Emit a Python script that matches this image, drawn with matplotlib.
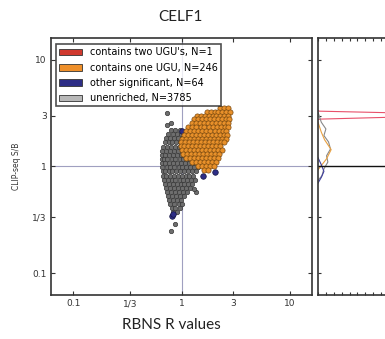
import numpy as np
import matplotlib
matplotlib.use('Agg')
import matplotlib.pyplot as plt
from matplotlib.patches import Patch
from matplotlib.ticker import FixedLocator, NullFormatter, NullLocator, MultipleLocator

plt.rc('font', family='DejaVu Sans', size=7)

# ---- data ----
# gray (unenriched) cloud, stored row by row: (CLIP-seq S/B, [RBNS R values])
gray_rows = [
    (2.22, [0.80, 0.87, 0.97]),
    (2.02, [0.75, 0.84, 0.91, 0.99, 1.07]),
    (1.84, [0.72, 0.79, 0.86, 0.93, 1.02, 1.10]),
    (1.68, [0.70, 0.76, 0.82, 0.89, 0.97, 1.05, 1.14]),
    (1.53, [0.68, 0.74, 0.80, 0.87, 0.95, 1.03, 1.12, 1.22]),
    (1.40, [0.665, 0.72, 0.78, 0.85, 0.92, 1.0, 1.09, 1.19, 1.29]),
    (1.28, [0.66, 0.70, 0.76, 0.83, 0.90, 0.98, 1.06, 1.15, 1.25]),
    (1.17, [0.655, 0.69, 0.74, 0.81, 0.88, 0.96, 1.04, 1.13, 1.23, 1.33]),
    (1.07, [0.66, 0.71, 0.77, 0.84, 0.91, 0.99, 1.08, 1.17, 1.27, 1.38]),
    (0.98, [0.665, 0.73, 0.79, 0.86, 0.94, 1.02, 1.11, 1.21, 1.31, 1.42]),
    (0.90, [0.67, 0.70, 0.76, 0.82, 0.89, 0.97, 1.05, 1.14, 1.24, 1.35]),
    (0.82, [0.675, 0.72, 0.78, 0.85, 0.92, 1.0, 1.09, 1.18, 1.28]),
    (0.75, [0.69, 0.75, 0.81, 0.88, 0.96, 1.04, 1.13, 1.23, 1.33]),
    (0.69, [0.70, 0.77, 0.83, 0.90, 0.98, 1.06, 1.16, 1.25]),
    (0.63, [0.72, 0.79, 0.86, 0.93, 1.01, 1.10, 1.19]),
    (0.58, [0.73, 0.80, 0.87, 0.95, 1.03, 1.12]),
    (0.53, [0.75, 0.82, 0.89, 0.97, 1.05]),
    (0.485, [0.77, 0.84, 0.91, 0.99]),
    (0.445, [0.79, 0.86, 0.94, 1.01]),
    (0.41, [0.81, 0.88, 0.96]),
    (0.375, [0.84, 0.91]),
]
gray_extra_x = [0.729, 0.793, 0.793, 0.863, 1.373, 0.74, 1.30]
gray_extra_y = [3.16, 2.56, 0.25, 0.29, 0.575, 2.45, 0.62]

# orange (one UGU) cloud, row by row
orange_rows = [
    (3.52, [2.25, 2.45, 2.66]),
    (3.25, [1.72, 1.86, 2.03, 2.19, 2.38, 2.58, 2.80]),
    (3.00, [1.38, 1.50, 1.64, 1.78, 1.94, 2.10, 2.28, 2.48, 2.70]),
    (2.76, [1.30, 1.42, 1.55, 1.69, 1.84, 2.00, 2.18, 2.37, 2.58, 2.76]),
    (2.54, [1.24, 1.35, 1.48, 1.61, 1.75, 1.91, 2.08, 2.26, 2.46, 2.66]),
    (2.34, [1.15, 1.26, 1.37, 1.50, 1.63, 1.78, 1.94, 2.11, 2.30, 2.50, 2.68]),
    (2.15, [1.10, 1.20, 1.31, 1.43, 1.56, 1.70, 1.85, 2.02, 2.20, 2.40, 2.58]),
    (1.98, [1.05, 1.15, 1.25, 1.36, 1.48, 1.62, 1.76, 1.92, 2.09, 2.28, 2.48, 2.64]),
    (1.82, [1.0, 1.09, 1.19, 1.30, 1.42, 1.55, 1.69, 1.84, 2.00, 2.18, 2.38, 2.55]),
    (1.68, [0.98, 1.07, 1.17, 1.27, 1.38, 1.51, 1.65, 1.80, 1.96, 2.13, 2.32, 2.48]),
    (1.55, [0.98, 1.05, 1.14, 1.24, 1.35, 1.47, 1.60, 1.75, 1.90, 2.07, 2.26]),
    (1.42, [1.0, 1.09, 1.19, 1.30, 1.42, 1.55, 1.69, 1.84, 2.00, 2.18, 2.34]),
    (1.31, [1.04, 1.13, 1.23, 1.34, 1.46, 1.59, 1.73, 1.88, 2.05, 2.22]),
    (1.20, [1.10, 1.20, 1.31, 1.43, 1.56, 1.70, 1.85, 2.01, 2.17]),
    (1.10, [1.25, 1.36, 1.48, 1.61, 1.76, 1.91, 2.07]),
    (1.01, [1.42, 1.55, 1.69, 1.84, 1.99]),
    (0.93, [1.62, 1.76]),
]

blue_x = [1.59, 2.05, 0.81, 0.84, 1.0]
blue_y = [0.81, 0.88, 0.345, 0.36, 2.15]

red_x = [2.6]
red_y = [3.05]

# marginal densities (density, CLIP-seq S/B)
dens_gray_d = [0.0, 0.05, 0.12, 0.09, 0.16, 0.19, 0.13, 0.15, 0.09, 0.06, 0.0]
dens_gray_y = [3.23, 2.60, 2.25, 1.95, 1.70, 1.46, 1.26, 1.10, 0.95, 0.82, 0.74]
dens_orange_d = [0.0, 0.05, 0.10, 0.20, 0.13, 0.05, 0.0]
dens_orange_y = [2.6, 2.1, 1.78, 1.44, 1.18, 1.02, 0.93]
dens_blue_d = [0.0, 0.05, 0.09, 0.05, 0.0]
dens_blue_y = [1.21, 1.04, 0.90, 0.79, 0.70]
dens_red_d = [0.0, 0.02, 2.5, 0.03, 0.0]
dens_red_y = [3.35, 3.30, 3.05, 2.78, 2.75]

tick_vals = [0.1, 1/3, 1, 3, 10]
tick_labels = ['0.1', '1/3', '1', '3', '10']

legend_labels = ["contains two UGU's, N=1", "contains one UGU, N=246",
                 "other significant, N=64", "unenriched, N=3785"]
legend_colors = ['#d0392e', '#ee8f2a', '#2e2e86', '#b8b8b8']

# ---- figure ----
W, H = 385, 339
fig = plt.figure(figsize=(W/100, H/100), dpi=100)
ax = fig.add_axes([51/W, 1-295/H, 261/W, 257/H])
ax2 = fig.add_axes([318/W, 1-295/H, 263/W, 257/H])

gx = [x for y, xs in gray_rows for x in xs] + gray_extra_x
gy = [y for y, xs in gray_rows for x in xs] + gray_extra_y
ox = [x for y, xs in orange_rows for x in xs]
oy = [y for y, xs in orange_rows for x in xs]

ax.axvline(1, color='#a0a0c0', lw=0.8, zorder=1)
ax.axhline(1, color='#a0a0c0', lw=0.8, zorder=1)
ax.scatter(gx, gy, s=10, c='#6e6e6e', edgecolors='#383838', linewidths=0.5, zorder=2)
ax.scatter(red_x, red_y, s=14, c='#d0392e', edgecolors='#5a1a10', linewidths=0.5, zorder=3)
ax.scatter(blue_x, blue_y, s=16, c='#2e2e86', edgecolors='#151540', linewidths=0.5, zorder=3)
ax.scatter(ox, oy, s=14, c='#e8902a', edgecolors='#7a4a10', linewidths=0.5, zorder=4)

ax.set_xscale('log')
ax.set_yscale('log')
ax.set_xlim(1/16, 16)
ax.set_ylim(1/16, 16)
for axis in (ax.xaxis, ax.yaxis):
    axis.set_major_locator(FixedLocator(tick_vals))
    axis.set_minor_locator(NullLocator())
ax.set_xticklabels(tick_labels)
ax.set_yticklabels(tick_labels)
ax.tick_params(direction='in', length=3, width=0.8, labelsize=6.5, colors='#333333',
               top=True, right=True, pad=3)

handles = [Patch(facecolor=c, edgecolor='#333333', lw=0.6) for c in legend_colors]
leg = ax.legend(handles, legend_labels, loc='upper left', bbox_to_anchor=(0.02, 0.975),
                fontsize=7, fancybox=False, borderaxespad=0, handlelength=2.4,
                handleheight=0.7, labelspacing=0.55, borderpad=0.3, handletextpad=0.8)
leg.get_frame().set_edgecolor('#222222')
leg.get_frame().set_linewidth(1.2)

ax.set_ylabel('CLIP-seq S/B', fontsize=5.5, color='#333333', labelpad=8)

# marginal panel
ax2.plot(dens_red_d, dens_red_y, color='#e8506a', lw=0.8)
ax2.plot(dens_gray_d, dens_gray_y, color='#888888', lw=0.8)
ax2.plot(dens_orange_d, dens_orange_y, color='#e8a040', lw=0.8)
ax2.plot(dens_blue_d, dens_blue_y, color='#4040a0', lw=0.8)
ax2.axhline(1, color='#111111', lw=1.0)
ax2.set_yscale('log')
ax2.set_ylim(1/16, 16)
ax2.set_xlim(0, 4)
ax2.yaxis.set_major_locator(FixedLocator(tick_vals))
ax2.yaxis.set_minor_locator(NullLocator())
ax2.yaxis.set_major_formatter(NullFormatter())
ax2.xaxis.set_major_locator(MultipleLocator(0.12))
ax2.xaxis.set_major_formatter(NullFormatter())
ax2.tick_params(direction='in', length=2, width=0.8, colors='#333333', top=True, right=True)

for a in (ax, ax2):
    for sp in a.spines.values():
        sp.set_linewidth(1.2)
        sp.set_color('#333333')

fig.text(180/W, 1-17/H, 'CELF1', ha='center', va='center', fontsize=11,
         family='Lato', color='#222222')
fig.text(171/W, 1-325/H, 'RBNS R values', ha='center', va='center', fontsize=11,
         family='Lato', color='#222222')

fig.savefig('out.png', dpi=100)
